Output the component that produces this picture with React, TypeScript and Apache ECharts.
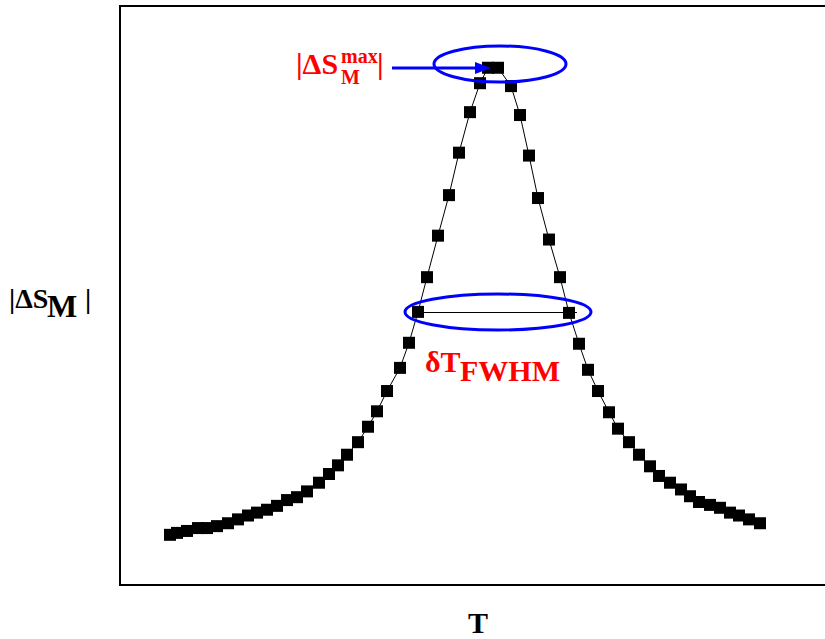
import React, { useEffect, useRef } from "react";
import * as echarts from "echarts";

// Temperature (arbitrary K scale) and |ΔS_M| (arbitrary units)
const temperature = [
  210.0, 211.4, 213.4, 215.6, 217.4, 219.4, 221.6, 223.6, 225.6, 227.4,
  229.4, 231.4, 233.4, 235.4, 237.4, 239.8, 241.8, 243.6, 245.4, 247.6,
  249.6, 251.4, 253.4, 256.0, 257.8, 259.6, 261.4, 263.6, 265.8, 267.8,
  270.0, 272.0, 273.6, 275.6, 278.2, 280.0, 281.8, 283.6, 285.8, 288.0,
  289.8, 291.8, 293.6, 295.6, 297.8, 299.6, 301.8, 303.8, 306.0, 307.8,
  310.0, 312.2, 314.0, 315.8, 318.0, 320.0, 322.0, 323.8, 325.8, 328.0,
];
const entropyChange = [
  0.52, 0.54, 0.56, 0.59, 0.59, 0.61, 0.64, 0.68, 0.72, 0.75,
  0.78, 0.82, 0.88, 0.91, 0.97, 1.06, 1.15, 1.24, 1.35, 1.48,
  1.64, 1.80, 2.01, 2.25, 2.51, 2.83, 3.19, 3.62, 4.04, 4.48,
  4.90, 5.20, 5.36, 5.36, 5.17, 4.87, 4.45, 4.01, 3.58, 3.19,
  2.82, 2.50, 2.23, 2.01, 1.79, 1.62, 1.48, 1.35, 1.23, 1.13,
  1.06, 0.99, 0.92, 0.86, 0.83, 0.80, 0.75, 0.72, 0.68, 0.64,
];
// FWHM segment (start T, end T, level)
const fwhmStart = 259.6;
const fwhmEnd = 291.4;
const fwhmLevel = 2.83;

const xMin = 200;
const xMax = 343;
const yMin = 0;
const yMax = 6;

const FONT = "'Liberation Serif', 'Times New Roman', serif";

export default function App() {
  const ref = useRef<HTMLDivElement>(null);
  useEffect(() => {
    if (!ref.current) return;
    const chart = echarts.init(ref.current, undefined, { renderer: "svg" });
    const data = temperature.map((t, i) => [t, entropyChange[i]]);
    const red = "#ff0000";
    const blue = "#0000ff";
    const txt = (x: number, y: number, text: string, size: number, fill: string) => ({
      type: "text",
      x,
      y,
      z: 100,
      style: {
        text,
        fill,
        font: `bold ${size}px ${FONT}`,
        textAlign: "left",
        textVerticalAlign: "middle",
      },
    });
    chart.setOption({
      animation: false,
      backgroundColor: "#ffffff",
      grid: {
        left: 120,
        top: 6,
        width: 715,
        bottom: 54,
        outerBoundsMode: "none",
        containLabel: false,
        show: true,
        borderColor: "#000000",
        borderWidth: 2,
        backgroundColor: "transparent",
      },
      xAxis: {
        type: "value",
        min: xMin,
        max: xMax,
        axisLabel: { show: false },
        axisTick: { show: false },
        axisLine: { show: false },
        splitLine: { show: false },
      },
      yAxis: {
        type: "value",
        min: yMin,
        max: yMax,
        axisLabel: { show: false },
        axisTick: { show: false },
        axisLine: { show: false },
        splitLine: { show: false },
      },
      series: [
        {
          type: "line",
          data,
          symbol: "rect",
          symbolSize: 12,
          showAllSymbol: true,
          itemStyle: { color: "#000000" },
          lineStyle: { color: "#000000", width: 1 },
          markLine: {
            silent: true,
            symbol: "none",
            label: { show: false },
            lineStyle: { color: "#000000", width: 1, type: "solid" },
            data: [
              [
                { coord: [fwhmStart, fwhmLevel] },
                { coord: [fwhmEnd, fwhmLevel] },
              ],
            ],
          },
        },
      ],
      graphic: [
        {
          type: "ellipse",
          z: 90,
          shape: { cx: 500, cy: 64, rx: 66, ry: 18 },
          style: { fill: "none", stroke: blue, lineWidth: 3 },
        },
        {
          type: "ellipse",
          z: 90,
          shape: { cx: 498, cy: 312, rx: 93, ry: 18 },
          style: { fill: "none", stroke: blue, lineWidth: 3 },
        },
        {
          type: "line",
          z: 95,
          shape: { x1: 392, y1: 68, x2: 478, y2: 68 },
          style: { stroke: blue, lineWidth: 3 },
        },
        {
          type: "polygon",
          z: 95,
          shape: { points: [[475, 62], [491, 68], [475, 74]] },
          style: { fill: blue },
        },
        txt(296, 63.5, "|ΔS", 30, red),
        txt(341, 56, "max", 20, red),
        txt(341, 77, "M", 20, red),
        txt(377, 63.5, "|", 30, red),
        txt(425, 361, "δT", 30, red),
        txt(460, 370, "FWHM", 30, red),
        txt(9, 298, "|ΔS", 28, "#000000"),
        txt(47, 306, "M", 32, "#000000"),
        txt(85, 298, "|", 28, "#000000"),
        txt(468, 622, "T", 30, "#000000"),
      ],
    });
    return () => chart.dispose();
  }, []);
  return (
    <div
      ref={ref}
      style={{ position: "fixed", left: 0, top: 0, width: 825, height: 639, background: "#fff" }}
    />
  );
}
